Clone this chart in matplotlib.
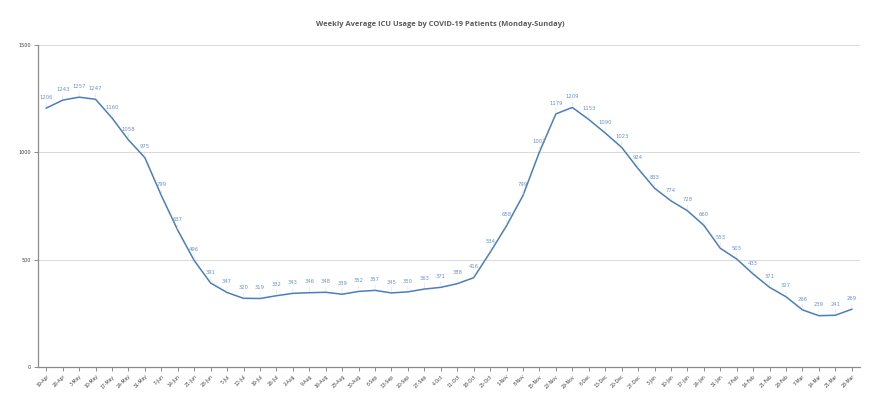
import matplotlib
matplotlib.use("Agg")
import matplotlib.pyplot as plt

weeks = ["19-Apr", "26-Apr", "3-May", "10-May", "17-May", "24-May", "31-May",
         "7-Jun", "14-Jun", "21-Jun", "28-Jun", "5-Jul", "12-Jul", "19-Jul",
         "26-Jul", "2-Aug", "9-Aug", "16-Aug", "23-Aug", "30-Aug", "6-Sep",
         "13-Sep", "20-Sep", "27-Sep", "4-Oct", "11-Oct", "18-Oct", "25-Oct",
         "1-Nov", "8-Nov", "15-Nov", "22-Nov", "29-Nov", "6-Dec", "13-Dec",
         "20-Dec", "27-Dec", "3-Jan", "10-Jan", "17-Jan", "24-Jan", "31-Jan",
         "7-Feb", "14-Feb", "21-Feb", "28-Feb", "7-Mar", "14-Mar", "21-Mar",
         "28-Mar"]

icu_avg = [1206, 1243, 1257, 1247, 1160, 1058, 975, 799, 637, 496, 391, 347,
           320, 319, 332, 343, 346, 348, 339, 352, 357, 345, 350, 363, 371,
           388, 416, 534, 658, 799, 1002, 1179, 1209, 1153, 1090, 1023, 924,
           833, 774, 728, 660, 553, 503, 433, 371, 327, 266, 239, 241, 269]

y_ticks = [0, 500, 1000, 1500]

line_color = "#4a7ebf"
label_color = "#6a93cc"

fig = plt.figure(figsize=(8.8, 4.09), dpi=100)
ax = fig.add_axes([0.0432, 0.1027, 0.9341, 0.7873])

x = list(range(len(weeks)))
ax.plot(x, icu_avg, color=line_color, linewidth=1.1)

for i, v in enumerate(icu_avg):
    ax.annotate(str(v), xy=(i, v), xytext=(0, 6), textcoords="offset points",
                ha="center", va="bottom", fontsize=3.8, color=label_color,
                family="DejaVu Sans",
                arrowprops=dict(arrowstyle="-", color="#e2e2e2", lw=0.5,
                                shrinkA=0, shrinkB=1))

ax.set_xlim(-0.5, len(weeks) - 0.5)
ax.set_ylim(0, 1500)
ax.set_yticks(y_ticks)
ax.set_yticklabels([str(t) for t in y_ticks], fontsize=3.5, color="#404040")
ax.set_xticks(x)
ax.set_xticklabels(weeks, rotation=45, ha="right", rotation_mode="anchor",
                   fontsize=3.3, color="#404040")

ax.grid(axis="y", color="#d9d9d9", linewidth=0.7)
ax.set_axisbelow(True)
for side in ["top", "right"]:
    ax.spines[side].set_visible(False)
for side in ["left", "bottom"]:
    ax.spines[side].set_color("#8c8c8c")
    ax.spines[side].set_linewidth(0.9)
ax.tick_params(axis="both", length=3, width=0.7, color="#8c8c8c", pad=2)

fig.text(0.5, 0.94, "Weekly Average ICU Usage by COVID-19 Patients (Monday-Sunday)",
         ha="center", va="center", fontsize=5.4, fontweight="bold",
         color="#595959", family="Open Sans")

fig.savefig("out.png", dpi=100)
